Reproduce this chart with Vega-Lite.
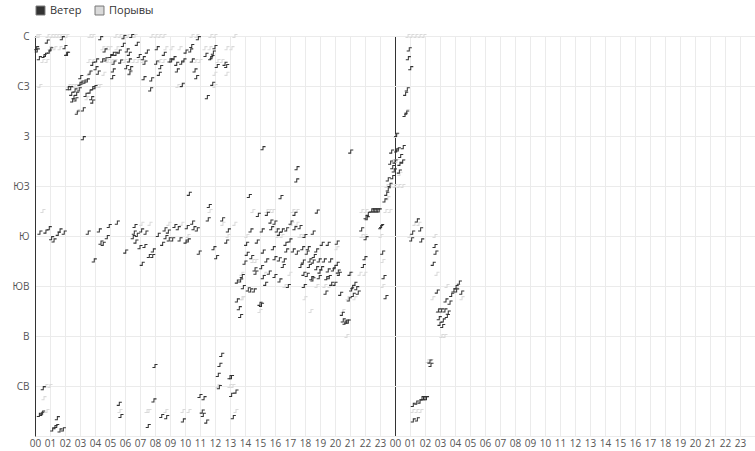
{
"$schema":"https://vega.github.io/schema/vega-lite/v6.json",
"width":720,"height":400,
"autosize":{"type":"none"},
"padding":{"left":35,"top":36,"right":0,"bottom":15},
"background":"white",
"config":{"view":{"stroke":null},"font":"Open Sans",
 "axis":{"labelOverlap":false,"labelBound":false,"labelSeparation":0,"grid":true,"gridColor":"#ebebeb","ticks":false,"labelColor":"#555555","labelFontSize":10,"title":null},
 "axisX":{"labelOverlap":false,"domain":false,"labelFlush":false,"labelPadding":2},
 "axisY":{"domain":true,"domainColor":"#333333","labelPadding":6}},
"datasets":{
"wind":[
{"t":0.11,"d":349},{"t":0.15,"d":347},{"t":0.82,"d":355},{"t":1.82,"d":358},{"t":0.29,"d":340},{"t":0.6,"d":342},{"t":0.7,"d":343},{"t":0.95,"d":346},{"t":1.05,"d":348},{"t":2.0,"d":350},{"t":2.11,"d":344},{"t":2.17,"d":344},{"t":4.38,"d":358},{"t":5.93,"d":359},{"t":6.45,"d":360},{"t":5.89,"d":352},{"t":6.82,"d":353},{"t":4.67,"d":347},{"t":5.62,"d":346},{"t":5.4,"d":344},{"t":5.22,"d":344},{"t":5.05,"d":342},{"t":6.15,"d":347},{"t":6.29,"d":344},{"t":6.95,"d":342},{"t":4.11,"d":338},{"t":4.51,"d":338},{"t":4.73,"d":339},{"t":3.85,"d":335},{"t":5.27,"d":336},{"t":5.71,"d":337},{"t":6.29,"d":338},{"t":4.22,"d":327},{"t":4.07,"d":331},{"t":5.22,"d":329},{"t":6.11,"d":332},{"t":6.38,"d":331},{"t":6.33,"d":327},{"t":5.18,"d":323},{"t":3.67,"d":327},{"t":3.05,"d":323},{"t":3.0,"d":317},{"t":3.13,"d":318},{"t":3.33,"d":319},{"t":3.49,"d":320},{"t":2.22,"d":313},{"t":2.38,"d":313},{"t":2.67,"d":311},{"t":2.95,"d":312},{"t":2.45,"d":308},{"t":2.78,"d":308},{"t":2.6,"d":305},{"t":2.51,"d":302},{"t":2.73,"d":303},{"t":3.67,"d":310},{"t":3.85,"d":313},{"t":4.0,"d":314},{"t":3.78,"d":304},{"t":3.4,"d":307},{"t":3.85,"d":301},{"t":2.82,"d":291},{"t":3.22,"d":294},{"t":3.22,"d":268},
{"t":7.49,"d":346},{"t":7.22,"d":340},{"t":7.33,"d":336},{"t":7.27,"d":322},{"t":7.78,"d":321},{"t":7.71,"d":312},{"t":8.15,"d":349},{"t":8.62,"d":344},{"t":8.11,"d":336},{"t":8.38,"d":332},{"t":8.29,"d":326},{"t":9.11,"d":338},{"t":9.0,"d":338},{"t":9.27,"d":340},{"t":9.45,"d":335},{"t":9.78,"d":336},{"t":9.93,"d":338},{"t":10.07,"d":346},{"t":10.38,"d":347},{"t":10.45,"d":351},{"t":9.49,"d":329},{"t":9.82,"d":316},{"t":10.49,"d":338},{"t":10.89,"d":358},{"t":11.4,"d":343},{"t":11.89,"d":345},{"t":12.0,"d":350},{"t":11.71,"d":340},{"t":11.8,"d":341},{"t":12.15,"d":333},{"t":12.67,"d":335},{"t":12.78,"d":333},{"t":10.67,"d":329},{"t":10.78,"d":323},{"t":11.85,"d":317},{"t":11.49,"d":305},
{"t":0.33,"d":183},{"t":0.73,"d":184},{"t":0.95,"d":187},{"t":1.11,"d":178},{"t":1.27,"d":176},{"t":1.55,"d":182},{"t":1.67,"d":185},{"t":1.95,"d":183},{"t":3.55,"d":183},{"t":3.95,"d":158},{"t":4.29,"d":185},{"t":4.4,"d":174},{"t":4.55,"d":173},{"t":4.82,"d":179},{"t":4.95,"d":189},{"t":5.49,"d":192},{"t":6.05,"d":166},{"t":6.67,"d":189},{"t":6.62,"d":183},{"t":6.82,"d":181},{"t":6.55,"d":179},{"t":6.73,"d":175},{"t":7.11,"d":185},{"t":7.4,"d":183},{"t":7.0,"d":170},{"t":7.33,"d":171},{"t":7.89,"d":167},{"t":7.62,"d":162},{"t":7.85,"d":162},{"t":7.15,"d":155},{"t":8.22,"d":181},{"t":8.51,"d":173},{"t":8.73,"d":179},{"t":8.67,"d":186},{"t":8.89,"d":184},{"t":8.95,"d":177},{"t":9.18,"d":177},{"t":9.33,"d":189},{"t":9.55,"d":187},{"t":9.67,"d":177},{"t":10.07,"d":175},{"t":10.22,"d":176},{"t":10.15,"d":188},{"t":10.29,"d":218},{"t":10.51,"d":192},{"t":10.6,"d":187},{"t":10.82,"d":186},{"t":10.95,"d":165},{"t":11.62,"d":207},{"t":11.55,"d":195},{"t":11.93,"d":169},{"t":12.11,"d":161},{"t":12.51,"d":195},{"t":12.89,"d":185},{"t":12.78,"d":175},
{"t":17.45,"d":230},{"t":14.29,"d":216},{"t":16.4,"d":215},{"t":18.82,"d":202},{"t":14.89,"d":199},{"t":15.49,"d":200},{"t":17.33,"d":200},{"t":17.07,"d":192},{"t":15.73,"d":193},{"t":16.0,"d":192},{"t":15.78,"d":187},{"t":17.67,"d":188},{"t":17.33,"d":187},{"t":14.4,"d":185},{"t":15.15,"d":185},{"t":16.15,"d":185},{"t":16.49,"d":185},{"t":16.78,"d":186},{"t":16.29,"d":182},{"t":18.0,"d":180},{"t":18.55,"d":183},{"t":14.11,"d":173},{"t":14.82,"d":175},{"t":17.0,"d":176},{"t":16.73,"d":173},{"t":19.15,"d":173},{"t":19.55,"d":173},{"t":20.15,"d":174},{"t":15.89,"d":169},{"t":15.22,"d":166},{"t":16.78,"d":167},{"t":17.22,"d":167},{"t":17.49,"d":165},{"t":17.85,"d":169},{"t":18.22,"d":169},{"t":18.78,"d":167},{"t":18.15,"d":165},{"t":18.62,"d":162},{"t":14.15,"d":164},{"t":14.45,"d":161},{"t":14.0,"d":156},{"t":15.45,"d":158},{"t":16.0,"d":160},{"t":16.29,"d":159},{"t":16.62,"d":158},{"t":17.89,"d":157},{"t":18.33,"d":158},{"t":18.55,"d":157},{"t":18.95,"d":158},{"t":19.29,"d":158},{"t":19.71,"d":158},{"t":20.15,"d":155},{"t":14.67,"d":150},{"t":14.73,"d":147},{"t":15.11,"d":152},{"t":15.62,"d":147},{"t":16.55,"d":153},{"t":17.73,"d":153},{"t":18.29,"d":153},{"t":18.78,"d":151},{"t":19.11,"d":151},{"t":19.0,"d":148},{"t":19.55,"d":149},{"t":19.89,"d":150},{"t":20.0,"d":152},{"t":20.22,"d":148},{"t":13.82,"d":144},{"t":15.22,"d":143},{"t":16.0,"d":144},{"t":17.93,"d":146},{"t":18.15,"d":145},{"t":18.95,"d":143},{"t":19.62,"d":143},{"t":20.29,"d":146},{"t":21.0,"d":146},{"t":22.0,"d":160},{"t":21.89,"d":153},{"t":18.45,"d":142},{"t":18.53,"d":141},{"t":19.45,"d":142},{"t":13.49,"d":139},{"t":13.71,"d":140},{"t":13.89,"d":134},{"t":14.22,"d":132},{"t":14.38,"d":131},{"t":14.62,"d":131},{"t":15.38,"d":137},{"t":16.33,"d":140},{"t":16.89,"d":135},{"t":17.95,"d":135},{"t":19.4,"d":129},{"t":19.78,"d":137},{"t":20.0,"d":137},{"t":20.38,"d":128},{"t":21.18,"d":134},{"t":21.33,"d":137},{"t":21.11,"d":132},{"t":21.45,"d":133},{"t":21.55,"d":129},{"t":13.49,"d":122},{"t":13.62,"d":115},{"t":13.71,"d":108},{"t":15.0,"d":119},{"t":15.1,"d":118},{"t":20.95,"d":123},{"t":21.22,"d":127},{"t":20.49,"d":110},{"t":20.55,"d":104},{"t":20.67,"d":102},{"t":20.78,"d":103},{"t":20.89,"d":103},{"t":22.07,"d":197},{"t":22.15,"d":196},{"t":22.22,"d":200},{"t":22.45,"d":203},{"t":22.55,"d":203},{"t":22.65,"d":203},{"t":22.75,"d":203},{"t":22.85,"d":203},{"t":22.95,"d":203},{"t":23.11,"d":189},{"t":21.78,"d":186},{"t":22.07,"d":178},{"t":23.18,"d":165},{"t":23.27,"d":143},{"t":23.4,"d":125},{"t":23.45,"d":218},{"t":23.55,"d":222},{"t":23.67,"d":226},{"t":23.33,"d":212},
{"t":21.05,"d":256},{"t":23.78,"d":256},{"t":24.11,"d":257},{"t":24.22,"d":258},{"t":24.55,"d":260},{"t":24.38,"d":252},{"t":23.71,"d":246},{"t":24.0,"d":247},{"t":24.51,"d":247},{"t":24.33,"d":245},{"t":23.85,"d":242},{"t":23.95,"d":239},{"t":24.29,"d":238},{"t":23.85,"d":233},{"t":23.55,"d":231},{"t":25.49,"d":194},{"t":25.18,"d":183},{"t":25.11,"d":177},{"t":25.71,"d":186},{"t":25.78,"d":176},{"t":26.67,"d":171},{"t":26.73,"d":165},{"t":26.55,"d":155},{"t":28.29,"d":138},{"t":28.07,"d":134},{"t":27.93,"d":131},{"t":28.11,"d":131},{"t":27.78,"d":127},{"t":28.45,"d":129},{"t":27.67,"d":120},{"t":27.4,"d":122},{"t":26.82,"d":130},{"t":27.11,"d":113},{"t":27.33,"d":113},{"t":26.91,"d":113},{"t":27.55,"d":111},{"t":27.22,"d":104},{"t":27.49,"d":108},{"t":26.95,"d":106},{"t":27.0,"d":101},{"t":27.18,"d":99},{"t":23.05,"d":188},{"t":24.95,"d":348},{"t":24.89,"d":340},{"t":25.05,"d":331},{"t":24.82,"d":312},{"t":24.71,"d":308},{"t":24.67,"d":289},{"t":24.78,"d":291},{"t":24.11,"d":271},
{"t":0.55,"d":43},{"t":0.29,"d":19},{"t":0.45,"d":20},{"t":0.51,"d":21},{"t":1.49,"d":16},{"t":1.18,"d":6},{"t":1.33,"d":8},{"t":1.45,"d":9},{"t":1.67,"d":5},{"t":1.89,"d":6},{"t":5.62,"d":29},{"t":5.73,"d":18},{"t":7.93,"d":32},{"t":7.55,"d":9},{"t":8.45,"d":18},{"t":8.78,"d":17},{"t":9.89,"d":14},{"t":11.0,"d":36},{"t":11.27,"d":34},{"t":11.15,"d":22},{"t":11.22,"d":19},{"t":11.45,"d":13},{"t":12.22,"d":55},{"t":12.29,"d":44},{"t":13.0,"d":53},{"t":13.1,"d":53},{"t":13.11,"d":37},{"t":13.4,"d":40},{"t":13.22,"d":17},{"t":12.45,"d":73},{"t":12.33,"d":64},{"t":8.0,"d":63},{"t":25.22,"d":28},{"t":25.45,"d":30},{"t":25.67,"d":31},{"t":25.22,"d":14},{"t":25.49,"d":15},{"t":25.8,"d":34},{"t":25.9,"d":34},{"t":26.0,"d":34},{"t":26.1,"d":34},{"t":26.33,"d":67},{"t":26.4,"d":64},{"t":15.2,"d":259},{"t":17.47,"d":241}
],
"gust":[
{"t":0.13,"d":360},{"t":0.27,"d":360},{"t":0.87,"d":360},{"t":1.13,"d":360},{"t":1.33,"d":360},{"t":1.53,"d":360},{"t":1.73,"d":360},{"t":1.93,"d":360},{"t":2.13,"d":360},{"t":3.67,"d":360},{"t":3.87,"d":360},{"t":5.4,"d":360},{"t":5.67,"d":360},{"t":5.93,"d":360},{"t":6.2,"d":360},{"t":6.47,"d":360},{"t":6.67,"d":360},{"t":7.8,"d":360},{"t":8.07,"d":360},{"t":8.33,"d":360},{"t":8.6,"d":360},{"t":10.47,"d":360},{"t":10.8,"d":360},{"t":11.73,"d":360},{"t":12.0,"d":360},{"t":13.33,"d":360},{"t":24.87,"d":360},{"t":25.13,"d":360},{"t":25.4,"d":360},{"t":25.67,"d":360},{"t":25.93,"d":360},
{"t":1.0,"d":349},{"t":1.33,"d":349},{"t":1.67,"d":349},{"t":4.53,"d":349},{"t":4.8,"d":349},{"t":5.0,"d":349},{"t":5.47,"d":349},{"t":8.73,"d":349},{"t":9.13,"d":349},{"t":9.67,"d":349},{"t":11.33,"d":349},{"t":11.67,"d":349},{"t":12.8,"d":349},{"t":13.13,"d":349},
{"t":0.53,"d":337.5},{"t":0.8,"d":337.5},{"t":3.6,"d":337.5},{"t":3.87,"d":337.5},{"t":4.87,"d":337.5},{"t":5.13,"d":337.5},{"t":5.33,"d":337.5},{"t":5.73,"d":337.5},{"t":6.0,"d":337.5},{"t":6.33,"d":337.5},{"t":6.6,"d":337.5},{"t":6.87,"d":337.5},{"t":7.2,"d":337.5},{"t":8.33,"d":337.5},{"t":8.6,"d":337.5},{"t":10.47,"d":337.5},{"t":10.73,"d":337.5},{"t":11.0,"d":337.5},{"t":12.2,"d":337.5},{"t":12.47,"d":337.5},
{"t":3.6,"d":326},{"t":4.6,"d":326},{"t":6.33,"d":326},{"t":12.0,"d":326},{"t":12.8,"d":326},
{"t":0.33,"d":315},{"t":2.27,"d":315},{"t":2.47,"d":315},{"t":2.67,"d":315},{"t":2.87,"d":315},{"t":3.07,"d":315},{"t":4.13,"d":315},{"t":4.33,"d":315},{"t":9.53,"d":315},{"t":9.8,"d":315},{"t":12.0,"d":315},
{"t":3.47,"d":304},{"t":2.87,"d":292.5},{"t":24.8,"d":292.5},{"t":24.07,"d":270},
{"t":23.87,"d":247.5},{"t":24.13,"d":247.5},{"t":24.53,"d":247.5},{"t":24.33,"d":236},
{"t":23.47,"d":225},{"t":23.73,"d":225},{"t":24.0,"d":225},{"t":24.27,"d":225},{"t":24.53,"d":225},{"t":23.53,"d":214},
{"t":0.53,"d":202.5},{"t":11.67,"d":202.5},{"t":14.53,"d":202.5},{"t":15.47,"d":202.5},{"t":15.67,"d":202.5},{"t":15.87,"d":202.5},{"t":17.2,"d":202.5},{"t":17.47,"d":202.5},{"t":21.8,"d":202.5},{"t":22.07,"d":202.5},{"t":23.4,"d":202.5},{"t":23.67,"d":202.5},
{"t":7.13,"d":191},{"t":7.67,"d":191},{"t":8.93,"d":191},{"t":9.8,"d":191},{"t":12.53,"d":191},{"t":13.33,"d":191},{"t":17.13,"d":191},{"t":17.47,"d":191},{"t":25.33,"d":191},{"t":25.6,"d":191},
{"t":10.2,"d":180},{"t":12.87,"d":180},{"t":14.13,"d":180},{"t":16.2,"d":180},{"t":16.47,"d":180},{"t":17.67,"d":180},{"t":17.87,"d":180},{"t":21.8,"d":180},{"t":22.0,"d":180},{"t":23.07,"d":180},{"t":25.0,"d":180},{"t":26.67,"d":180},
{"t":20.13,"d":169},{"t":14.53,"d":157.5},{"t":14.73,"d":157.5},{"t":23.2,"d":157.5},
{"t":13.8,"d":146},{"t":15.33,"d":146},{"t":17.0,"d":146},{"t":21.07,"d":146},{"t":21.67,"d":146},{"t":22.0,"d":146},{"t":26.8,"d":146},
{"t":16.67,"d":135},{"t":16.87,"d":135},{"t":18.0,"d":135},{"t":18.8,"d":135},{"t":19.33,"d":135},{"t":19.67,"d":135},{"t":23.2,"d":135},{"t":27.47,"d":135},{"t":28.2,"d":135},
{"t":13.8,"d":124},{"t":13.87,"d":124},{"t":18.0,"d":124},{"t":20.87,"d":124},{"t":21.33,"d":124},{"t":26.53,"d":124},{"t":28.47,"d":124},
{"t":15.0,"d":112.5},{"t":18.4,"d":112.5},{"t":20.53,"d":112.5},{"t":26.87,"d":112.5},
{"t":20.8,"d":90},{"t":27.13,"d":90},{"t":27.33,"d":90},{"t":26.2,"d":67.5},{"t":26.4,"d":67.5},
{"t":0.73,"d":45},{"t":1.0,"d":45},{"t":12.2,"d":45},{"t":13.0,"d":45},{"t":13.2,"d":45},{"t":0.6,"d":34},
{"t":0.8,"d":22.5},{"t":5.67,"d":22.5},{"t":7.47,"d":22.5},{"t":7.6,"d":22.5},{"t":8.73,"d":22.5},{"t":9.87,"d":22.5},{"t":10.27,"d":22.5},{"t":13.4,"d":22.5},{"t":25.2,"d":22.5},{"t":25.47,"d":22.5},{"t":25.73,"d":22.5}
]
},
"encoding":{
  "x":{"field":"t","type":"quantitative","scale":{"domain":[0,48],"nice":false,"zero":false},
   "axis":{"values":[0,1,2,3,4,5,6,7,8,9,10,11,12,13,14,15,16,17,18,19,20,21,22,23,24,25,26,27,28,29,30,31,32,33,34,35,36,37,38,39,40,41,42,43,44,45,46,47],
    "labelExpr":"(datum.value%24<10?'0':'')+(datum.value%24)","labelOverlap":false,"labelFlush":false,
    "gridColor":{"condition":{"test":"datum.value === 24","value":"#333333"},"value":"#ebebeb"}}},
  "y":{"field":"d","type":"quantitative","scale":{"domain":[0,360],"nice":false,"zero":false},
   "axis":{"values":[0,45,90,135,180,225,270,315,360],
    "labelExpr":"datum.value==360?'С':datum.value==315?'СЗ':datum.value==270?'З':datum.value==225?'ЮЗ':datum.value==180?'Ю':datum.value==135?'ЮВ':datum.value==90?'В':datum.value==45?'СВ':''"}}
},
"layer":[
{"data":{"name":"gust"},
 "mark":{"type":"point","filled":true,"strokeWidth":0,"size":36,"opacity":1,"shape":"M-0.85,0.7H0.17V-0.35H0.85V-0.7H-0.17V0.35H-0.85Z"},
 "encoding":{
  "color":{"datum":"Порывы","type":"nominal","scale":{"domain":["Ветер","Порывы"],"range":["#333333","#dadada"]},
   "legend":{"title":null,"orient":"none","legendX":0,"legendY":-31,"direction":"horizontal","labelFontSize":11,"labelColor":"#333333","symbolSize":80,"symbolType":"square","symbolStrokeColor":"#777777","symbolStrokeWidth":1,"columnPadding":11,"labelOffset":4}}
 }},
{"data":{"name":"wind"},
 "mark":{"type":"point","filled":true,"strokeWidth":0,"size":36,"opacity":1,"shape":"M-0.85,0.7H0.17V-0.35H0.85V-0.7H-0.17V0.35H-0.85Z"},
 "encoding":{"color":{"datum":"Ветер","type":"nominal"}}}
]
}
